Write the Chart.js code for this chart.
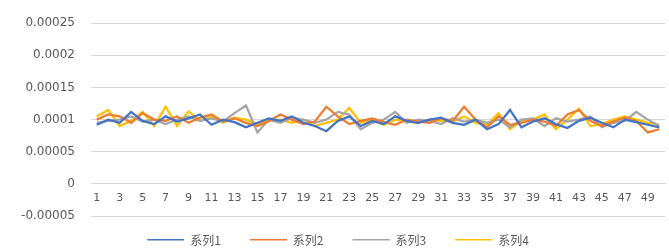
<!DOCTYPE html>
<html>
<head>
<meta charset="utf-8">
<script src="https://cdn.jsdelivr.net/npm/chart.js@4.4.1/dist/chart.umd.min.js"></script>
<style>
  html, body { margin: 0; padding: 0; background: #fff; }
  #wrap { width: 669px; height: 250px; }
</style>
</head>
<body>
<div id="wrap"><canvas id="c"></canvas></div>
<script>
var labels = [];
for (var i = 1; i <= 50; i++) labels.push(String(i));

var seriesNames = ["系列1", "系列2", "系列3", "系列4"];
var seriesColors = ["#4472C4", "#ED7D31", "#A5A5A5", "#FFC000"];

var s1 = [0.000092, 0.0001, 0.000095, 0.000112, 0.000098, 0.000093, 0.000105, 0.000097, 0.000102, 0.000108,
          0.000092, 0.0001, 0.000096, 0.000088, 0.000095, 0.000102, 0.000098, 0.000105, 0.000095, 0.00009,
          0.000082, 0.000098, 0.000105, 0.00009, 0.000098, 0.000093, 0.000105, 0.000098, 0.000095, 0.0001,
          0.000103, 0.000095, 0.000092, 0.0001, 0.000085, 0.000093, 0.000115, 0.000088, 0.000097, 0.000102,
          0.000093, 0.000087, 0.000098, 0.000103, 0.000095, 0.000088, 0.0001, 0.000096, 0.000092, 0.000088];
var s2 = [0.0001, 0.000108, 0.000105, 0.000095, 0.00011, 0.0001, 0.000098, 0.000105, 0.000095, 0.000103,
          0.000108, 0.000097, 0.000102, 0.000095, 0.00009, 0.000098, 0.000108, 0.0001, 0.000093, 0.000097,
          0.00012, 0.000105, 0.000093, 0.000098, 0.000102, 0.000096, 0.000092, 0.0001, 0.000097, 0.000095,
          0.000102, 0.000098, 0.00012, 0.0001, 0.000088, 0.000105, 0.000092, 0.000095, 0.0001, 0.000097,
          0.00009, 0.000108, 0.000115, 0.000098, 0.00009, 0.000097, 0.000103, 0.000098, 0.00008, 0.000085];
var s3 = [0.000095, 0.000098, 0.0001, 0.000105, 0.000097, 0.0001, 0.000093, 0.0001, 0.000105, 0.000098,
          0.000102, 0.000097, 0.00011, 0.000122, 0.00008, 0.0001, 0.000095, 0.000103, 0.0001, 0.000095,
          0.0001, 0.000112, 0.000108, 0.000085, 0.000095, 0.0001, 0.000112, 0.000095, 0.0001, 0.000098,
          0.000093, 0.000102, 0.000097, 0.0001, 0.000095, 0.0001, 0.000088, 0.0001, 0.000102, 0.00009,
          0.000102, 0.000097, 0.0001, 0.000105, 0.000088, 0.000095, 0.000098, 0.000112, 0.0001, 0.00009];
var s4 = [0.000105, 0.000115, 0.00009, 0.000098, 0.000112, 0.00009, 0.00012, 0.00009, 0.000113, 0.000098,
          0.000105, 0.000095, 0.000103, 0.0001, 0.000093, 0.000098, 0.0001, 0.000095, 0.0001, 0.00009,
          0.000095, 0.0001, 0.000118, 0.000095, 0.0001, 0.000092, 0.0001, 0.000097, 0.000095, 0.0001,
          0.000098, 0.000097, 0.000105, 0.000095, 0.000092, 0.00011, 0.000085, 0.000098, 0.0001, 0.000108,
          0.000085, 0.0001, 0.000117, 0.00009, 0.000093, 0.0001, 0.000105, 0.0001, 0.000095, 0.000092];

var yMin = -0.00005, yMax = 0.00025, yStep = 0.00005;

var allSeries = [s1, s2, s3, s4];
var datasets = allSeries.map(function (d, k) {
  return {
    label: seriesNames[k],
    data: d,
    borderColor: seriesColors[k],
    backgroundColor: seriesColors[k],
    borderWidth: 2.25,
    pointRadius: 0,
    tension: 0
  };
});

// legend swatch: short line at the right of a wider box, so items sit further apart
var swatchW = 48, lineW = 37;
var swatches = seriesColors.map(function (col) {
  var cv = document.createElement("canvas");
  cv.width = swatchW; cv.height = 3;
  var g = cv.getContext("2d");
  g.fillStyle = col;
  g.fillRect(swatchW - lineW, 0, lineW, 2);
  return cv;
});

new Chart(document.getElementById("c"), {
  type: "line",
  data: { labels: labels, datasets: datasets },
  options: {
    responsive: true,
    maintainAspectRatio: false,
    animation: false,
    layout: { padding: { left: 0, right: 4, top: 11, bottom: -6 } },
    plugins: {
      tooltip: { enabled: false },
      legend: {
        position: "bottom",
        labels: {
          usePointStyle: true,
          pointStyleWidth: swatchW,
          boxHeight: 3,
          padding: 18,
          color: "#595959",
          font: { family: "'Noto Sans CJK SC'", size: 12 },
          generateLabels: function (chart) {
            var items = Chart.defaults.plugins.legend.labels.generateLabels(chart);
            items.forEach(function (it, k) { it.pointStyle = swatches[k]; });
            return items;
          }
        }
      }
    },
    scales: {
      x: {
        position: { y: 0 },
        offset: true,
        grid: { display: false, drawTicks: false },
        border: { display: true, color: "#D9D9D9", width: 1 },
        ticks: {
          autoSkip: false,
          maxRotation: 0,
          padding: 8,
          color: "#595959",
          font: { family: "'DejaVu Sans'", size: 11 },
          callback: function (v, i) { return i % 2 === 0 ? labels[i] : ""; }
        }
      },
      y: {
        min: yMin,
        max: yMax,
        afterFit: function (s) { s.width = 91; },
        grid: { color: "#D9D9D9", drawTicks: false },
        border: { display: false },
        ticks: {
          stepSize: yStep,
          padding: 16,
          color: "#595959",
          font: { family: "'DejaVu Sans'", size: 12 },
          callback: function (v) { return parseFloat(v.toFixed(5)).toString(); }
        }
      }
    }
  }
});
</script>
</body>
</html>
